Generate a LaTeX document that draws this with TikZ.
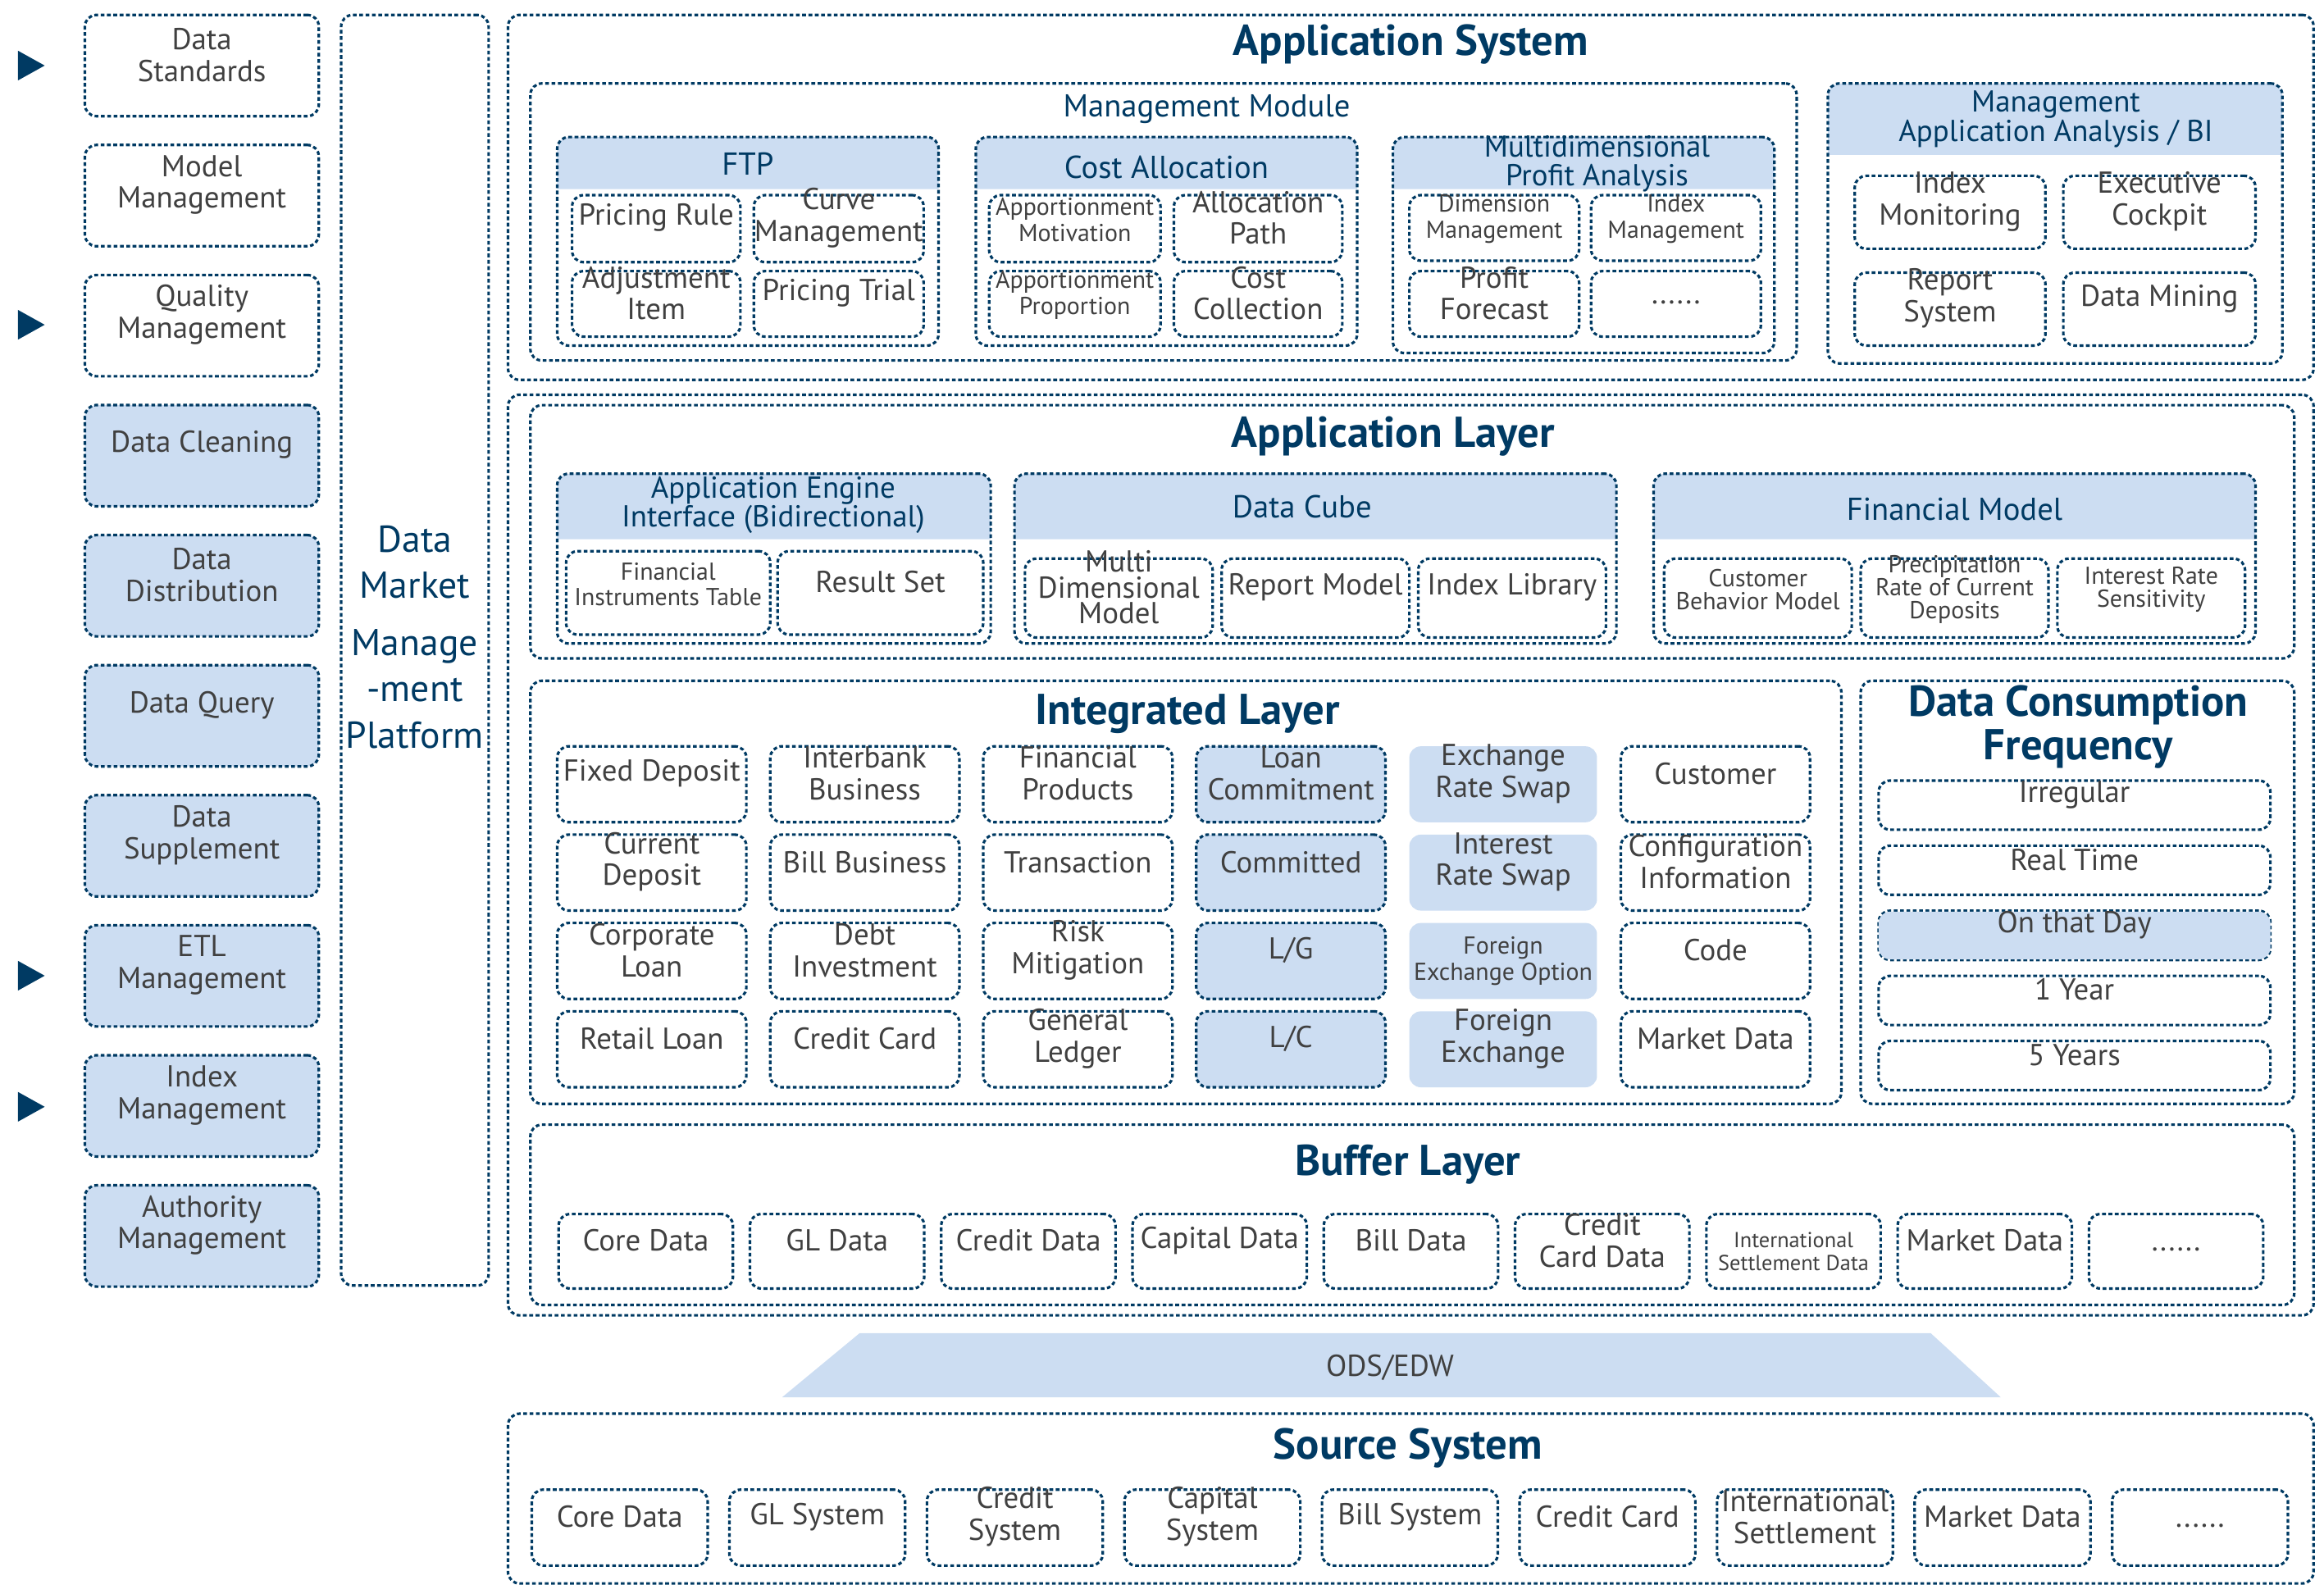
\documentclass[tikz,border=0pt]{standalone}
\usepackage{fontspec}
\setmainfont{PT Sans}
\usetikzlibrary{positioning, fit}

\definecolor{dk}{HTML}{003A63}
\definecolor{lb}{HTML}{CCDDF2}
\definecolor{tx}{HTML}{404040}

\tikzset{
    bx/.style={draw=dk, line width=0.9pt, dash pattern=on 1.3pt off 0.9pt,
        rounded corners=4pt, inner sep=0pt, align=center, text=tx,
        font=\fontsize{10.5}{11}\selectfont},
    fl/.style={bx, fill=lb},
    fb/.style={bx, fill=lb, draw=none},
    sm/.style={font=\fontsize{8.5}{9}\selectfont},
    xs/.style={font=\fontsize{7.5}{8}\selectfont},
    ttl/.style={text=dk, font=\bfseries\fontsize{15}{16}\selectfont, align=center},
    sub/.style={text=dk, font=\fontsize{11}{11}\selectfont, align=center},
}
\newcommand\moredots{......}
% box by its corners
\newcommand\bx[7][]{\node[bx,#1,fit={(#3,#4) (#5,#6)}] (#2) {#7};}
% group with a filled header
\newcommand\grp[6]{\fill[lb] (#2,#5) {[rounded corners=4pt] -- (#2,#3) -- (#4,#3)} -- (#4,#5) -- cycle;
    \node[bx,fit={(#2,#3) (#4,#6)}] (#1) {};}

\begin{document}
\begin{tikzpicture}[x=0.1817mm, y=-0.1817mm]
    \useasboundingbox (0,0) rectangle (1560,1070);

    % left column
    \foreach \t [count=\i from 0] in {{Data\\Standards}, {Model\\Management}, {Quality\\Management}}
        \bx{l\i}{57}{10+87.3*\i}{214}{78+87.3*\i}{\t};
    \foreach \t [count=\i from 3] in {{Data Cleaning}, {Data\\Distribution}, {Data Query}, {Data\\Supplement},
            {ETL\\Management}, {Index\\Management}, {Authority\\Management}}
        \bx[fl]{l\i}{57}{10+87.3*\i}{214}{78+87.3*\i}{\t};
    \foreach \y in {44, 218, 655, 743}
        \fill[dk] (12,\y-10) -- (30,\y) -- (12,\y+10) -- cycle;

    \bx[font=\fontsize{13}{16}\selectfont, text=dk]{dmp}{229}{10}{328}{863}{Data\\Market\\[4pt]Manage\\-ment\\Platform};

    % application system
    \bx{appsys}{341}{10}{1553}{255}{};
    \node[ttl] (appsysT) at (947,30) {Application System};
    \bx{mm}{356}{56}{1206}{242}{};
    \node[sub] (mmT) at (810,73) {Management Module};

    \grp{ftp}{374}{92}{630}{127}{232}
    \node[sub] at (502,110) {FTP};
    \bx{f1}{384}{131}{497}{176}{Pricing Rule};
    \bx{f2}{506}{131}{620}{176}{Curve\\Management};
    \bx{f3}{384}{182}{497}{226}{Adjustment\\Item};
    \bx{f4}{506}{182}{620}{226}{Pricing Trial};

    \grp{cost}{655}{92}{911}{127}{232}
    \node[sub] at (783,112) {Cost Allocation};
    \bx[sm]{c1}{664}{131}{779}{176}{Apportionment\\Motivation};
    \bx{c2}{788}{131}{901}{176}{Allocation\\Path};
    \bx[sm]{c3}{664}{182}{779}{226}{Apportionment\\Proportion};
    \bx{c4}{788}{182}{901}{226}{Cost\\Collection};

    \grp{mpa}{935}{92}{1191}{127}{237}
    \node[sub, font=\fontsize{10.5}{10}\selectfont] at (1072,110) {Multidimensional\\Profit Analysis};
    \bx[sm]{p1}{946}{131}{1060}{175}{Dimension\\Management};
    \bx[sm]{p2}{1068}{131}{1182}{175}{Index\\Management};
    \bx{p3}{946}{182}{1060}{226}{Profit\\Forecast};
    \bx{p4}{1068}{182}{1182}{226}{\moredots};

    \grp{bi}{1227}{56}{1532}{104}{244}
    \node[sub, font=\fontsize{10.5}{10}\selectfont] at (1380,80) {Management\\Application Analysis / BI};
    \bx{b1}{1245}{118}{1373}{167}{Index\\Monitoring};
    \bx{b2}{1385}{118}{1514}{167}{Executive\\Cockpit};
    \bx{b3}{1245}{183}{1373}{232}{Report\\System};
    \bx{b4}{1385}{183}{1514}{232}{Data Mining};

    % application layer
    \bx{outer}{341}{265}{1553}{883}{};
    \bx{al}{356}{272}{1540}{442}{};
    \node[ttl] (alT) at (935,293) {Application Layer};

    \grp{aei}{374}{318}{665}{362}{432}
    \node[sub, font=\fontsize{10.5}{10}\selectfont] at (519,339) {Application Engine\\Interface (Bidirectional)};
    \bx[sm]{a1}{380}{370}{517}{426}{Financial\\Instruments Table};
    \bx{a2}{522}{370}{660}{426}{Result Set};

    \grp{cube}{681}{318}{1085}{362}{432}
    \node[sub] at (874,340) {Data Cube};
    \foreach \t [count=\i from 0] in {{Multi\\Dimensional\\Model}, {Report Model}, {Index Library}}
        \bx[font=\fontsize{10.5}{9}\selectfont]{d\i}{688+132*\i}{375}{814+132*\i}{428}{\t};

    \grp{fmod}{1110}{318}{1514}{362}{432}
    \node[sub] at (1312,342) {Financial Model};
    \foreach \t [count=\i from 0] in {{Customer\\Behavior Model}, {Precipitation\\Rate of Current\\Deposits}, {Interest Rate\\Sensitivity}}
        \bx[sm, font=\fontsize{8.5}{8}\selectfont]{m\i}{1117+132*\i}{375}{1243+132*\i}{428}{\t};

    % integrated layer
    \bx{il}{356}{457}{1236}{741}{};
    \node[ttl] (ilT) at (797,479) {Integrated Layer};
    \foreach \t [count=\j from 0] in {{Fixed Deposit}, {Current\\Deposit}, {Corporate\\Loan}, {Retail Loan}}
        \bx{i1\j}{374}{501+59.3*\j}{501}{552+59.3*\j}{\t};
    \foreach \t [count=\j from 0] in {{Interbank\\Business}, {Bill Business}, {Debt\\Investment}, {Credit Card}}
        \bx{i2\j}{517}{501+59.3*\j}{644}{552+59.3*\j}{\t};
    \foreach \t [count=\j from 0] in {{Financial\\Products}, {Transaction}, {Risk\\Mitigation}, {General\\Ledger}}
        \bx{i3\j}{660}{501+59.3*\j}{787}{552+59.3*\j}{\t};
    \foreach \t [count=\j from 0] in {{Loan\\Commitment}, {Committed}, {L/G}, {L/C}}
        \bx[fl]{i4\j}{803}{501+59.3*\j}{930}{552+59.3*\j}{\t};
    \foreach \t [count=\j from 0] in {{Exchange\\Rate Swap}, {Interest\\Rate Swap}, {}, {Foreign\\Exchange}}
        \bx[fb]{i5\j}{946}{501+59.3*\j}{1072}{552+59.3*\j}{\t};
    \node[sm, text=tx, align=center] at (i52) {Foreign\\Exchange Option};
    \foreach \t [count=\j from 0] in {{Customer}, {Configuration\\Information}, {Code}, {Market Data}}
        \bx{i6\j}{1088}{501+59.3*\j}{1215}{552+59.3*\j}{\t};

    % data consumption frequency
    \bx{dcf}{1249}{457}{1540}{741}{};
    \node[ttl, font=\bfseries\fontsize{15}{15}\selectfont] (dcfT) at (1395,488) {Data Consumption\\Frequency};
    \foreach \t [count=\j from 0] in {Irregular, Real Time, {}, 1 Year, 5 Years}
        \bx{q\j}{1261}{524+43.7*\j}{1524}{557+43.7*\j}{\t};
    \bx[fb]{q2b}{1261}{612}{1524}{644}{On that Day};

    % buffer layer
    \bx{bl}{356}{755}{1540}{876}{};
    \node[ttl] (blT) at (945,782) {Buffer Layer};
    \foreach \t [count=\i from 0] in {{Core Data}, {GL Data}, {Credit Data}, {Capital Data}, {Bill Data},
            {Credit\\Card Data}, {}, {Market Data}, {\moredots}}
        \bx{u\i}{375+128.4*\i}{815}{492+128.4*\i}{865}{\t};
    \node[xs, text=tx, align=center] at (u6) {International\\Settlement Data};

    % ods/edw
    \fill[lb] (577,895) -- (1296,895) -- (1343,938) -- (525,938) -- cycle;
    \node[text=tx, font=\fontsize{10.5}{11}\selectfont] (ods) at (933,918) {ODS/EDW};

    % source system
    \bx{src}{341}{949}{1553}{1063}{};
    \node[ttl] (srcT) at (945,972) {Source System};
    \foreach \t [count=\i from 0] in {{Core Data}, {GL System}, {Credit\\System}, {Capital\\System}, {Bill System},
            {Credit Card}, {International\\Settlement}, {Market Data}, {\moredots}}
        \bx{s\i}{357+132.6*\i}{1000}{475+132.6*\i}{1051}{\t};
\end{tikzpicture}
\end{document}
